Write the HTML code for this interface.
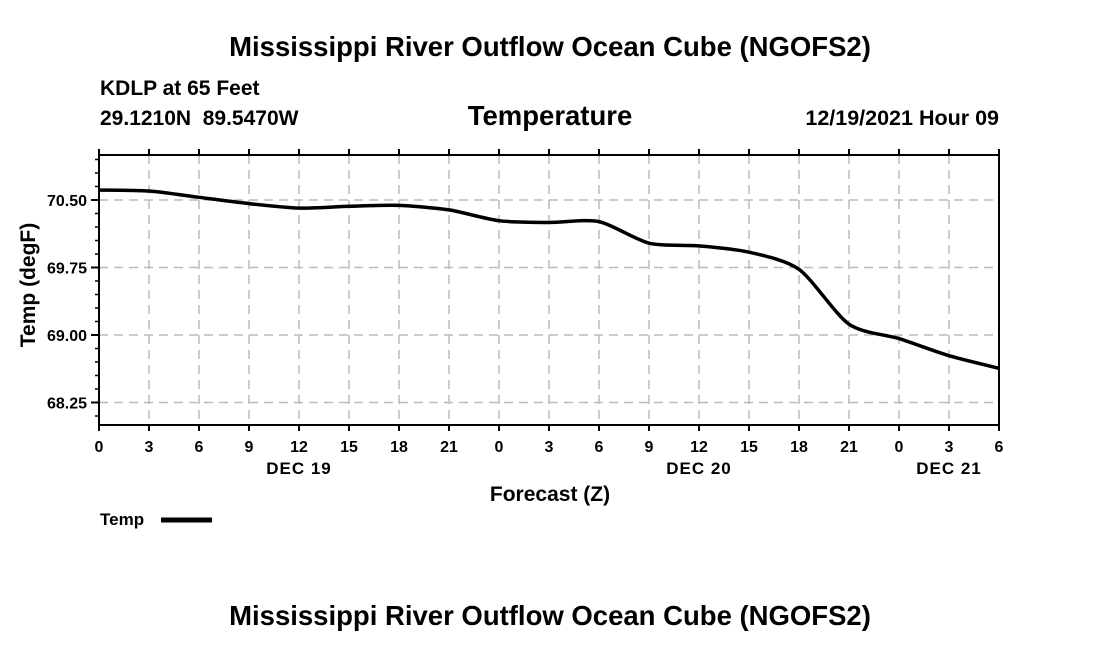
<!DOCTYPE html>
<html><head><meta charset="utf-8"><style>
html,body{margin:0;padding:0;background:#fff;}
svg text{font-family:"Liberation Sans",Arial,sans-serif;font-weight:bold;fill:#000;}
</style></head><body>
<svg width="1100" height="650" viewBox="0 0 1100 650">
<text x="550" y="56" font-size="27.5" text-anchor="middle">Mississippi River Outflow Ocean Cube (NGOFS2)</text>
<text x="100" y="95" font-size="21">KDLP at 65 Feet</text>
<text x="100" y="125" font-size="21" xml:space="preserve" style="white-space:pre">29.1210N  89.5470W</text>
<text x="550" y="125" font-size="27.5" text-anchor="middle">Temperature</text>
<text x="999" y="125" font-size="21.5" text-anchor="end">12/19/2021 Hour 09</text>
<g id="grid"></g>
<g id="axes"></g>
<path id="line" fill="none" stroke="#000" stroke-width="3.5"/>
<rect x="99" y="155" width="900" height="270" fill="none" stroke="#000" stroke-width="2"/>
<text transform="translate(35,285) rotate(-90)" font-size="21" text-anchor="middle">Temp (degF)</text>
<text x="550" y="501" font-size="21" text-anchor="middle">Forecast (Z)</text>
<text x="100" y="525" font-size="17">Temp</text>
<line x1="161" y1="520" x2="212" y2="520" stroke="#000" stroke-width="5"/>
<text x="550" y="625" font-size="27.5" text-anchor="middle">Mississippi River Outflow Ocean Cube (NGOFS2)</text>
</svg>
<script>
const hours=[0,3,6,9,12,15,18,21,24,27,30,33,36,39,42,45,48,51,54];
const temps=[70.61,70.60,70.53,70.46,70.41,70.43,70.44,70.39,70.27,70.25,70.26,70.02,69.99,69.92,69.73,69.12,68.96,68.77,68.63];
const yTicks=[70.50,69.75,69.00,68.25];
const yTickLabels=["70.50","69.75","69.00","68.25"];
const xTickLabels=["0","3","6","9","12","15","18","21","0","3","6","9","12","15","18","21","0","3","6"];
const dayLabels=["DEC 19","DEC 20","DEC 21"];
const dayHours=[12,36,51];
const X0=99,X1=999,Y0=155,Y1=425,XMIN=0,XMAX=54,YMIN=68,YMAX=71;
const sx=h=>X0+(h-XMIN)/(XMAX-XMIN)*(X1-X0);
const sy=v=>Y1-(v-YMIN)/(YMAX-YMIN)*(Y1-Y0);
const NS="http://www.w3.org/2000/svg";
function mk(tag,attrs,parent,txt){const e=document.createElementNS(NS,tag);for(const k in attrs)e.setAttribute(k,attrs[k]);if(txt!==undefined)e.textContent=txt;parent.appendChild(e);return e;}
const grid=document.getElementById('grid'),axes=document.getElementById('axes');
hours.forEach((h,i)=>{
  const x=sx(h);
  if(i>0&&i<hours.length-1){const g=mk('line',{x1:x,y1:Y0,x2:x,y2:Y1,stroke:'#bbb','stroke-width':1.5,'stroke-dasharray':'9,6'},grid);
  
  }
  const t=mk('line',{x1:x,y1:Y1,x2:x,y2:Y1+6,stroke:'#000','stroke-width':2},axes);
  
  
  const t2=mk('line',{x1:x,y1:Y0,x2:x,y2:Y0-6,stroke:'#000','stroke-width':2},axes);
  
  
  const l=mk('text',{x:x,y:452,'font-size':16,'text-anchor':'middle'},axes,xTickLabels[i]);
  
  
});
dayLabels.forEach((d,i)=>{
  const l=mk('text',{x:sx(dayHours[i]),y:474,'font-size':17,'text-anchor':'middle','letter-spacing':'1'},axes,d);
  
  
});
for(let v=68.1;v<71;v+=0.15){const y=sy(v);
  const m=mk('line',{x1:X0,y1:y,x2:X0-4,y2:y,stroke:'#000','stroke-width':1.5},axes);
  
  }
yTicks.forEach((v,i)=>{
  const y=sy(v);
  const g=mk('line',{x1:X0,y1:y,x2:X1,y2:y,stroke:'#bbb','stroke-width':1.5,'stroke-dasharray':'9,6'},grid);
  
  
  const t=mk('line',{x1:X0,y1:y,x2:X0-8,y2:y,stroke:'#000','stroke-width':2},axes);
  
  
  const l=mk('text',{x:X0-12,y:y+6,'font-size':16,'text-anchor':'end'},axes,yTickLabels[i]);
  
  
});
const pts=hours.map((h,i)=>[sx(h),sy(temps[i])]);
let d='M'+pts[0][0]+','+pts[0][1];
for(let i=0;i<pts.length-1;i++){
  const p0=pts[Math.max(0,i-1)],p1=pts[i],p2=pts[i+1],p3=pts[Math.min(pts.length-1,i+2)];
  const k=0.13;
  const c1=[p1[0]+(p2[0]-p0[0])*k,p1[1]+(p2[1]-p0[1])*k];
  const c2=[p2[0]-(p3[0]-p1[0])*k,p2[1]-(p3[1]-p1[1])*k];
  d+=' C'+c1[0]+','+c1[1]+' '+c2[0]+','+c2[1]+' '+p2[0]+','+p2[1];
}
document.getElementById('line').setAttribute('d',d);
</script>
</body></html>
